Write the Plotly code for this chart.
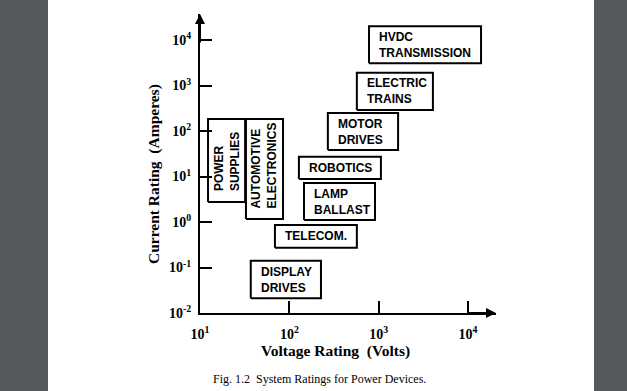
import numpy as np
import plotly.graph_objects as go

# ---------------- data ----------------
labels = ["HVDC<br>TRANSMISSION", "ELECTRIC<br>TRAINS", "MOTOR<br>DRIVES", "ROBOTICS",
          "LAMP<br>BALLAST", "TELECOM.", "DISPLAY<br>DRIVES",
          "POWER<br>SUPPLIES", "AUTOMOTIVE<br>ELECTRONICS"]
volt_min = [780, 570, 270, 128, 146, 69, 37, 12.3, 32.7]
volt_max = [14000, 4050, 1650, 1060, 910, 570, 226, 32, 85]
amp_min = [3100, 290, 38, 8.8, 1.1, 0.27, 0.021, 2.75, 1.16]
amp_max = [20000, 1900, 250, 27, 7.2, 0.86, 0.14, 184, 184]
vertical = [False, False, False, False, False, False, False, True, True]

x_tickvals = [10, 100, 1000, 10000]
x_ticktext = ["10<sup>1</sup>", "10<sup>2</sup>", "10<sup>3</sup>", "10<sup>4</sup>"]
y_tickvals = [0.01, 0.1, 1, 10, 100, 1000, 10000]
y_ticktext = ["10<sup>-2</sup>", "10<sup>-1</sup>", "10<sup>0</sup>", "10<sup>1</sup>",
              "10<sup>2</sup>", "10<sup>3</sup>", "10<sup>4</sup>"]

x_title = "Voltage Rating \u00a0(Volts)"
y_title = "Current Rating \u00a0(Amperes)"
caption = "Fig. 1.2 \u00a0System Ratings for Power Devices."

# ---------------- layout geometry ----------------
W, H = 627, 391
ML, MR, MT, MB = 200, 131, 14, 78
PW, PH = W - ML - MR, H - MT - MB


def px(xp):
    return (xp - ML) / PW


def py(yp):
    return (H - MB - yp) / PH


SERIF = "Liberation Serif"
SANS = "Liberation Sans"

fig = go.Figure()

for i, lab in enumerate(labels):
    x0, x1, y0, y1 = volt_min[i], volt_max[i], amp_min[i], amp_max[i]
    fig.add_trace(go.Scatter(
        x=[x0, x1, x1, x0, x0], y=[y0, y0, y1, y1, y0],
        mode="lines", fill="toself", fillcolor="white",
        line=dict(color="black", width=2), hoverinfo="skip", showlegend=False))
    if vertical[i]:
        fig.add_annotation(
            x=(np.log10(x0) + np.log10(x1)) / 2, y=np.log10(y0),
            xref="x", yref="y", text=lab, textangle=-90, showarrow=False,
            xanchor="center", yanchor="bottom", yshift=9, align="left",
            font=dict(family=SANS, size=12, color="black", weight="bold"))
    else:
        fig.add_annotation(
            x=np.log10(x0), y=(np.log10(y0) + np.log10(y1)) / 2,
            xref="x", yref="y", text=lab, showarrow=False,
            xanchor="left", yanchor="middle", xshift=8, align="left",
            font=dict(family=SANS, size=12, color="black", weight="bold"))

# axis arrows
fig.add_annotation(x=1, y=0, xref="paper", yref="paper", text="", showarrow=True,
                   ax=-30, ay=0, arrowhead=2, arrowsize=1, arrowwidth=2, arrowcolor="black")
fig.add_annotation(x=0, y=1, xref="paper", yref="paper", text="", showarrow=True,
                   ax=0, ay=30, arrowhead=2, arrowsize=1, arrowwidth=2, arrowcolor="black")

# titles and caption
fig.add_annotation(x=px(335), y=py(351), xref="paper", yref="paper", text=x_title,
                   showarrow=False, xanchor="center", yanchor="middle",
                   font=dict(family=SERIF, size=15.5, color="black", weight="bold"))
fig.add_annotation(x=px(154), y=py(174), xref="paper", yref="paper", text=y_title,
                   showarrow=False, xanchor="center", yanchor="middle", textangle=-90,
                   font=dict(family=SERIF, size=15.5, color="black", weight="bold"))
fig.add_annotation(x=px(319), y=py(379), xref="paper", yref="paper", text=caption,
                   showarrow=False, xanchor="center", yanchor="middle",
                   font=dict(family=SERIF, size=12, color="black"))

# dark page borders
fig.add_shape(type="rect", xref="paper", yref="paper", x0=px(-5), x1=px(48), y0=py(H + 5), y1=py(-5),
              fillcolor="#55595d", line=dict(width=0), layer="below")
fig.add_shape(type="rect", xref="paper", yref="paper", x0=px(594), x1=px(W + 5), y0=py(H + 5), y1=py(-5),
              fillcolor="#55595d", line=dict(width=0), layer="below")

axis_common = dict(
    showline=True, linecolor="black", linewidth=2, mirror=False,
    showgrid=False, zeroline=False, ticks="inside", ticklen=12, tickwidth=2,
    tickcolor="black",
    tickfont=dict(family=SERIF, size=14, color="black", weight="bold"),
)

fig.update_xaxes(type="log", range=[1, 1 + (496 - 200) / 89.33],
                 tickvals=x_tickvals, ticktext=x_ticktext, ticklabelstandoff=7,
                 **axis_common)
fig.update_yaxes(type="log", range=[-2, -2 + (313 - 14) / 45.5],
                 tickvals=y_tickvals, ticktext=y_ticktext, ticklabelstandoff=4,
                 **axis_common)

fig.update_layout(
    width=W, height=H,
    margin=dict(l=ML, r=MR, t=MT, b=MB),
    paper_bgcolor="white", plot_bgcolor="white",
    showlegend=False,
)

fig.write_html("out.html", config={"displayModeBar": False},
               post_script="document.body.style.margin='0px';document.body.style.overflow='hidden';")
